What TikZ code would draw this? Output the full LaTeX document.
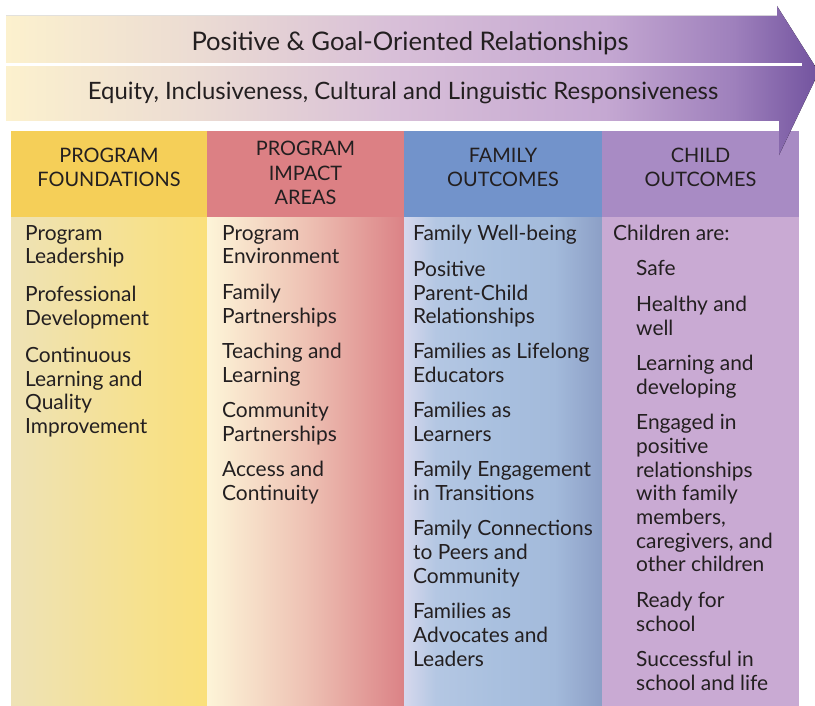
\documentclass[tikz,border=0pt]{standalone}
\usepackage{fontspec}
\setmainfont{Lato}
\definecolor{txt}{HTML}{231F20}
\definecolor{bandA}{HTML}{FCF1CE}
\definecolor{bandB}{HTML}{EBDBD3}
\definecolor{bandC}{HTML}{D8BFD8}
\definecolor{bandD}{HTML}{C5A8D2}
\definecolor{bandE}{HTML}{9E80BC}
\definecolor{bandF}{HTML}{7455A0}
\definecolor{hA}{HTML}{F5CF58}
\definecolor{hB}{HTML}{DC8084}
\definecolor{hC}{HTML}{7293CB}
\definecolor{hD}{HTML}{A88BC4}
\definecolor{cAl}{HTML}{EEE2B6}
\definecolor{cAr}{HTML}{FAE07A}
\definecolor{cBl}{HTML}{FDF5D8}
\definecolor{cBm}{HTML}{EEC2B4}
\definecolor{cBr}{HTML}{DB8286}
\definecolor{cC1}{HTML}{D6D8ED}
\definecolor{cC2}{HTML}{B4C7E3}
\definecolor{cC3}{HTML}{A9C0DF}
\definecolor{cC4}{HTML}{A3BADB}
\definecolor{cC5}{HTML}{8C9FC6}
\definecolor{cD}{HTML}{C9AAD3}
\pgfdeclarehorizontalshading{bandshade}{100bp}{color(0bp)=(bandA); color(25bp)=(bandA); color(37bp)=(bandB); color(49bp)=(bandC); color(62bp)=(bandD); color(70bp)=(bandE); color(75bp)=(bandF); color(100bp)=(bandF)}
\pgfdeclarehorizontalshading{famshade}{100bp}{color(0bp)=(cC1); color(25bp)=(cC1); color(33bp)=(cC2); color(48bp)=(cC3); color(63bp)=(cC4); color(75bp)=(cC5); color(100bp)=(cC5)}
\newcommand\myitemfont{\fontsize{21}{23.8}\selectfont}
\newcommand\myhdrfont{\fontsize{20}{24.5}\selectfont}
\begin{document}
\begin{tikzpicture}[x=1bp,y=-1bp,
  hdr/.style={align=center, font=\myhdrfont, text=txt, inner sep=0},
  item/.style={align=left, anchor=north west, font=\myitemfont, text=txt, inner sep=0}]
\useasboundingbox (0,0) rectangle (815,706);
% column bodies
\fill[left color=cAl, right color=cAr] (11,217) rectangle (207,706);
\fill[left color=cBl, right color=cBr, middle color=cBm] (207,217) rectangle (404,706);
\fill[shading=famshade] (404,217) rectangle (602,706);
\fill[cD] (602,217) rectangle (799,706);
% headers
\fill[hA] (11,131) rectangle (207,217);
\fill[hB] (207,131) rectangle (404,217);
\fill[hC] (404,131) rectangle (602,217);
\fill[hD] (602,131) rectangle (799,217);
% arrow band
\fill[shading=bandshade] (6,16) -- (777,16) -- (777,6) -- (815,66) -- (815,80) -- (779,155) -- (779,121) -- (6,121) -- cycle;
\draw[white, line width=3bp] (6,64.5) -- (802,64.5);
\node[text=txt, font=\fontsize{25.7}{28}\selectfont, inner sep=0] (t1) at (410,43) {Positive \& Goal-Oriented Relationships};
\node[text=txt, font=\fontsize{24}{28}\selectfont, inner sep=0] (t2) at (403,93) {Equity, Inclusiveness, Cultural and Linguistic Responsiveness};
% header texts
\node[hdr] (h1) at (109,167.5) {PROGRAM\\FOUNDATIONS};
\node[hdr] (h2) at (305.5,173) {PROGRAM\\IMPACT\\AREAS};
\node[hdr] (h3) at (503,167.5) {FAMILY\\OUTCOMES};
\node[hdr] (h4) at (700.5,167.5) {CHILD\\OUTCOMES};
% column 1
\node[item] (a1) at (25,225) {Program\\Leadership};
\node[item] (a2) at (25,286) {Professional\\Development};
\node[item] (a3) at (25,347) {Continuous\\Learning and\\Quality\\Improvement};
% column 2
\node[item] (b1) at (222,225) {Program\\Environment};
\node[item] (b2) at (222,284) {Family\\Partnerships};
\node[item] (b3) at (222,343) {Teaching and\\Learning};
\node[item] (b4) at (222,402) {Community\\Partnerships};
\node[item] (b5) at (222,461) {Access and\\Continuity};
% column 3
\node[item] (c1) at (413,225) {Family Well-being};
\node[item] (c2) at (413,261) {Positive\\Parent-Child\\Relationships};
\node[item] (c3) at (413,343) {Families as Lifelong\\Educators};
\node[item] (c4) at (413,402) {Families as\\Learners};
\node[item] (c5) at (413,461) {Family Engagement\\in Transitions};
\node[item] (c6) at (413,520) {Family Connections\\to Peers and\\Community};
\node[item] (c7) at (413,603) {Families as\\Advocates and\\Leaders};
% column 4
\node[item] (d0) at (613,225) {Children are:};
\node[item] (d1) at (636,260) {Safe};
\node[item] (d2) at (636,296) {Healthy and\\well};
\node[item] (d3) at (636,355) {Learning and\\developing};
\node[item] (d4) at (636,414) {Engaged in\\positive\\relationships\\with family\\members,\\caregivers, and\\other children};
\node[item] (d5) at (636,592) {Ready for\\school};
\node[item] (d6) at (636,651) {Successful in\\school and life};
\end{tikzpicture}
\end{document}
